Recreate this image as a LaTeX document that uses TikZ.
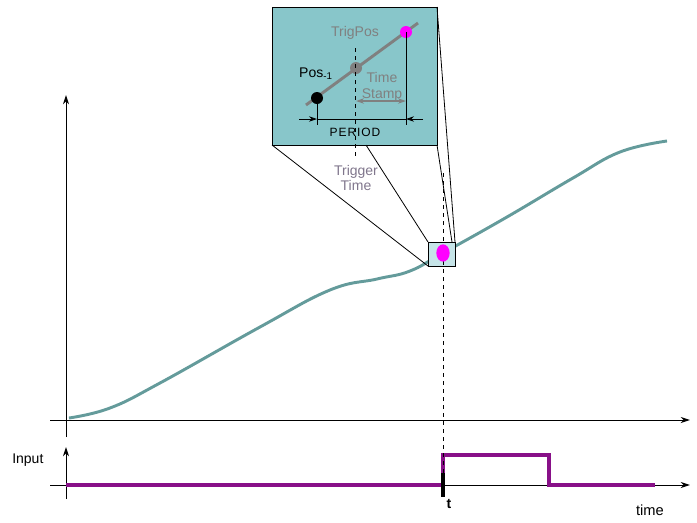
\documentclass[tikz,border=0pt]{standalone}
\usepackage{fontspec}
\setmainfont{Liberation Sans}
\usepackage{tikz}
\usetikzlibrary{calc,positioning,arrows.meta,shapes.geometric}
\definecolor{PlotTeal}{RGB}{100,155,155}
\definecolor{InsetFill}{RGB}{136,198,202}
\definecolor{ZoomFill}{RGB}{198,228,232}
\definecolor{SignalPurple}{RGB}{136,16,136}
\definecolor{MidGrey}{RGB}{128,128,128}
\definecolor{TrigGrey}{RGB}{128,118,140}
\definecolor{HitMagenta}{RGB}{255,0,255}

\begin{document}
\begin{tikzpicture}[
      x=0.75pt, y=-0.75pt,
      axis/.style={-{Stealth[length=7pt,width=4.5pt]}, black, line width=0.75pt},
      curve/.style={PlotTeal, line width=2.2pt},
      signal/.style={SignalPurple, line width=2.4pt},
      lead/.style={black, line width=0.6pt},
      insetbox/.style={draw, fill=InsetFill, line width=0.75pt, minimum width=123.75pt, minimum height=103.5pt, outer sep=0pt, inner sep=0pt},
      zoombox/.style={draw, fill=ZoomFill, line width=0.75pt, minimum width=20.25pt, minimum height=18pt, outer sep=0pt, inner sep=0pt},
      dot/.style={circle, minimum size=9pt, inner sep=0pt},
      txt/.style={font=\fontsize{10.5}{12.5}\selectfont, inner sep=0pt},
      dim/.style={-{Stealth[length=6pt,width=4pt]}, black, line width=0.6pt},
      stamp/.style={{Stealth[length=6pt,width=4pt]}-{Stealth[length=6pt,width=4pt]}, MidGrey, line width=1pt}
    ]
    \useasboundingbox (0,0) rectangle (697,522);

    % upper plot: position over time
    \coordinate (yTop) at (66,95);
    \coordinate (yBot) at (66,437);
    \coordinate (xLeft) at (50,420);
    \coordinate (xRight) at (690,420);
    \draw[axis] (yBot) -- (yTop);
    \draw[axis] (xLeft) -- (xRight);
    \draw[curve] plot[smooth, tension=0.7] coordinates {
      (69,418) (110,408) (160,383) (260,327) (330,290)
      (377,279) (410,271) (443,253) (507,217)
      (573,178) (620,152) (667,141)};

    % lower plot: input signal
    \coordinate (inTop) at (66,447);
    \coordinate (inBot) at (66,499);
    \coordinate (inLeft) at (50,485);
    \coordinate (inRight) at (690,485);
    \draw[axis] (inBot) -- (inTop);
    \draw[axis] (inLeft) -- (inRight);
    \draw[signal] (66,485) -- (443,485) -- (443,455) -- (549,455) -- (549,485) -- (655,485);
    \coordinate (tickTop) at (443,473);
    \coordinate (tickBot) at (443,497);
    \draw[black, line width=3pt] (tickTop) -- (tickBot);
    \node[txt, anchor=west] (input) at (12,460) {Input};
    \node[txt, font=\fontsize{10.5}{12.5}\selectfont\bfseries] (t) at (449,504) {t};
    \node[txt, font=\fontsize{11}{13}\selectfont] (time) at (650,510) {time};

    % zoomed window and its leaders
    \node[insetbox] (inset) at (354.5,76) {};
    \node[zoombox] (zoom) at (441.5,254) {};
    \coordinate (cutL) at (366,145);
    \coordinate (zoomNE) at ($(zoom.north east)+(-3,0)$);
    \draw[lead] (inset.south west) -- (zoom.south west);
    \draw[lead] (cutL) -- (zoom.north west);
    \draw[lead] (inset.south east) -- (zoomNE);
    \draw[lead] (inset.north east) -- (zoom.north east);

    % trigger time marker
    \coordinate (trigUp) at (443,173);
    \draw[dashed, line width=0.6pt] (trigUp) -- (tickTop);
    \node[ellipse, fill=HitMagenta, minimum width=10pt, minimum height=13pt, inner sep=0pt] (hit) at (443,253) {};

    % inside the window
    \coordinate (slopeA) at (306,105);
    \coordinate (slopeB) at (418,23);
    \draw[MidGrey, line width=2.2pt] (slopeA) -- (slopeB);
    \coordinate (prevFoot) at (317,125);
    \coordinate (nextFoot) at (406,125);
    \node[dot, fill=black] (posPrev) at (317,98) {};
    \node[dot, fill=MidGrey] (trigPos) at (356,68) {};
    \node[dot, fill=HitMagenta] (posNext) at (406,32) {};
    \draw[lead] (posPrev) -- (prevFoot);
    \draw[lead] (posNext.center) -- (nextFoot);
    \coordinate (dashTop) at (355,48);
    \coordinate (dashBot) at (355,157);
    \draw[dashed, line width=0.6pt] (dashTop) -- (dashBot);

    \coordinate (perL) at (317,119);
    \coordinate (perR) at (406,119);
    \coordinate (perLout) at (299,119);
    \coordinate (perRout) at (423,119);
    \draw[dim] (perLout) -- (perL);
    \draw[lead] (perL) -- (perR);
    \draw[dim] (perRout) -- (perR);
    \coordinate (stampL) at (356,101);
    \coordinate (stampR) at (406,101);
    \draw[stamp] (stampL) -- (stampR);

    \node[txt, text=MidGrey] (trigPosLbl) at (355,33) {TrigPos};
    \node[txt] (posPrevLbl) at (316,74) {Pos\textsubscript{-1}};
    \node[txt, text=MidGrey, align=center, font=\fontsize{10.5}{11.5}\selectfont] (stampLbl) at (382,87) {Time\\Stamp};
    \node[txt, font=\fontsize{9}{11}\selectfont\addfontfeatures{LetterSpace=8}] (period) at (355,132) {PERIOD};
    \node[txt, text=TrigGrey, align=center, font=\fontsize{10.5}{11.5}\selectfont] (trigTime) at (356,178) {Trigger\\Time};
  \end{tikzpicture}
\end{document}
